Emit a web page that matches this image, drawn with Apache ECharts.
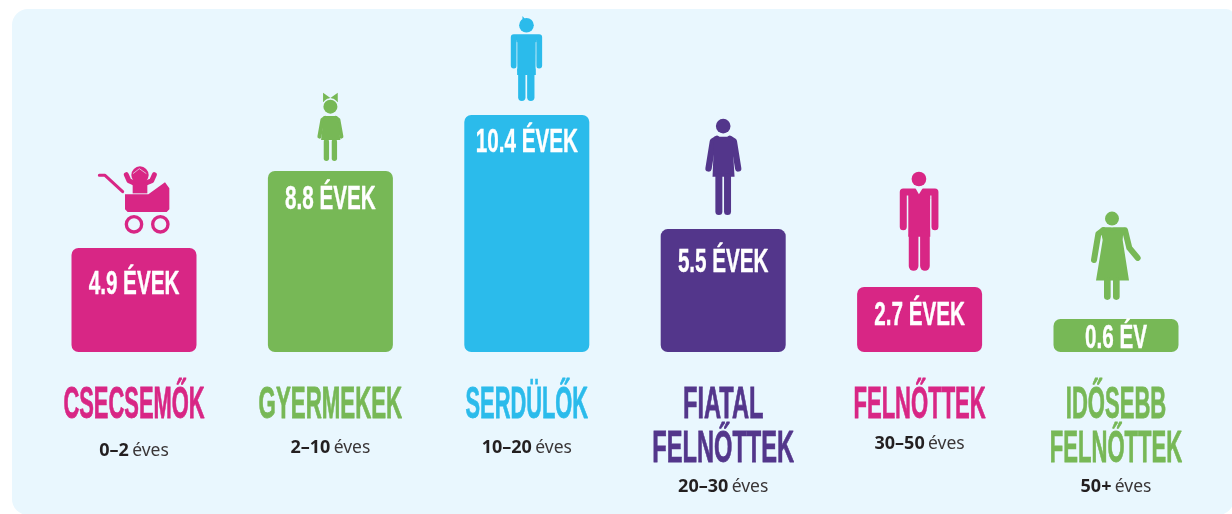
<!DOCTYPE html>
<html>
<head>
<meta charset="UTF-8">
<title>Életkorok</title>
<script src="https://cdn.jsdelivr.net/npm/echarts@6/dist/echarts.min.js"></script>
<style>
html, body { margin: 0; padding: 0; background: #fff; }
#main { width: 1232px; height: 514px; }
</style>
</head>
<body>
<div id="main"></div>
<script type="text/javascript">
var categories = ['CSECSEMŐK', 'GYERMEKEK', 'SERDÜLŐK', 'FIATAL\nFELNŐTTEK', 'FELNŐTTEK', 'IDŐSEBB\nFELNŐTTEK'];
var ageRanges = ['0–2', '2–10', '10–20', '20–30', '30–50', '50+'];
var valueLabels = ['4.9 ÉVEK', '8.8 ÉVEK', '10.4 ÉVEK', '5.5 ÉVEK', '2.7 ÉVEK', '0.6 ÉV'];
// the infographic bars are not to scale, so these are the lengths as drawn,
// measured against the tallest bar (10.4)
var barLengths = [4.56, 7.94, 10.4, 5.39, 2.85, 1.45];

var colors = ['#d82685', '#77b856', '#2bbbeb', '#53368b', '#d82685', '#77b856'];
var panelColor = '#e9f7fe';

// layout, in pixels
var labelDrop = [37, 29, 28, 34, 29, 20];   // value label centre below the bar top
var ageTop = [451, 448, 448, 487, 444, 487]; // centre of the age line
var titleSqueeze = [0.487, 0.495, 0.485, 0.525, 0.49, 0.49]; // no condensed font here, so squeeze it

function circle(x, y, r, fill) {
    return { type: 'circle', shape: { cx: x, cy: y, r: r }, style: { fill: fill } };
}
function ring(x, y, r, w, stroke) {
    return { type: 'circle', shape: { cx: x, cy: y, r: r }, style: { fill: 'none', stroke: stroke, lineWidth: w } };
}
function line(points, w, stroke) {
    return {
        type: 'polyline', shape: { points: points },
        style: { fill: 'none', stroke: stroke, lineWidth: w, lineCap: 'round', lineJoin: 'round' }
    };
}
function poly(points, fill) {
    return { type: 'polygon', shape: { points: points }, style: { fill: fill } };
}

// icons are written in 3x units (as measured on a 3x crop), dx/dy move them to the bar top centre
var icons = [
    { dx: -74, dy: -98, draw: function (c) {
        return [
            line([[118, 76], [135, 76], [188, 125]], 9, c),
            line([[199, 74], [207, 92], [225, 100]], 15, c),
            line([[283, 74], [275, 92], [255, 100]], 15, c),
            poly([[218, 96], [262, 96], [262, 130], [218, 130]], c),
            circle(240, 75, 26, c),
            line([[220, 70], [238, 56], [258, 70]], 2, panelColor),
            poly([[195, 133], [265, 133], [315, 97], [328, 115], [328, 178], [320, 186], [203, 186], [195, 178]], c),
            ring(222, 223, 23, 10, c),
            ring(301, 223, 23, 10, c)
        ];
    } },
    { dx: -30, dy: -86, draw: function (c) {
        return [
            poly([[68, 23], [90, 39], [68, 52]], c),
            poly([[112, 23], [90, 39], [112, 52]], c),
            line([[57, 155], [66, 105], [74, 99]], 12, c),
            line([[123, 155], [114, 105], [106, 99]], 12, c),
            poly([[70, 93], [110, 93], [120, 165], [62, 165]], c),
            line([[78, 170], [78, 220]], 16, c),
            line([[102, 170], [102, 220]], 16, c),
            circle(90, 65, 25, panelColor),
            circle(90, 65, 21, c)
        ];
    } },
    { dx: -77, dy: -115, draw: function (c) {
        return [
            poly([[218, 60], [218, 48], [226, 58]], c),
            circle(230, 76, 22, c),
            line([[192, 197], [192, 112], [268, 112], [268, 197]], 18, c),
            poly([[201, 105], [259, 105], [258, 225], [202, 225]], c),
            line([[201.5, 128], [201.5, 205]], 2, panelColor),
            line([[258.5, 128], [258.5, 205]], 2, panelColor),
            line([[216, 225], [216, 292]], 22, c),
            line([[243, 225], [243, 292]], 22, c)
        ];
    } },
    { dx: -273, dy: -229, draw: function (c) {
        return [
            line([[775, 505], [788, 424], [800, 416]], 19, c),
            line([[864, 505], [851, 424], [839, 416]], 19, c),
            poly([[792, 410], [846, 410], [853, 530], [787, 530]], c),
            line([[806, 530], [806, 634]], 21, c),
            line([[832, 530], [832, 634]], 21, c),
            circle(819, 378, 27, panelColor),
            circle(819, 378, 22, c)
        ];
    } },
    { dx: -80, dy: -127, draw: function (c) {
        return [
            line([[191, 200], [191, 96], [286, 96], [286, 200]], 21, c),
            poly([[206, 90], [272, 90], [272, 230], [206, 230]], c),
            line([[204, 118], [204, 205]], 2, panelColor),
            line([[273, 118], [273, 205]], 2, panelColor),
            line([[222, 225], [222, 318]], 29, c),
            line([[256, 225], [256, 318]], 29, c),
            poly([[226, 82], [238, 103], [251, 82]], panelColor),
            circle(238, 57, 22, c)
        ];
    } },
    { dx: -276, dy: -159, draw: function (c) {
        return [
            line([[762, 300], [775, 222], [790, 211]], 18, c),
            line([[855, 211], [868, 264], [893, 294]], 18, c),
            line([[790, 211], [848, 211]], 18, c),
            poly([[782, 212], [850, 212], [848, 240], [867, 362], [768, 362], [788, 240]], c),
            line([[802, 362], [802, 410]], 20, c),
            line([[829, 362], [829, 410]], 20, c),
            circle(816, 176, 26, panelColor),
            circle(816, 176, 21, c)
        ];
    } }
];

var TITLE_FONT = 'bold 45px "Liberation Sans", sans-serif';
var VALUE_FONT = 'bold 34px "Liberation Sans", sans-serif';

function renderOverlay(params, api) {
    var i = params.dataIndex;
    var top = api.coord([i, barLengths[i]]);
    var cx = top[0], cy = top[1];
    var icon = icons[i];
    return {
        type: 'group',
        children: [
            {
                type: 'group', x: cx + icon.dx, y: cy + icon.dy, scaleX: 1 / 3, scaleY: 1 / 3,
                children: icon.draw(colors[i])
            },
            {
                type: 'text', x: cx, y: cy + labelDrop[i], scaleX: 0.607,
                style: {
                    text: valueLabels[i], font: VALUE_FONT, fill: '#fff', stroke: '#fff', lineWidth: 0.4,
                    align: 'center', verticalAlign: 'middle'
                }
            },
            {
                type: 'text', x: cx, y: 384, scaleX: titleSqueeze[i],
                style: {
                    text: categories[i], font: TITLE_FONT, lineHeight: 44, fill: colors[i],
                    stroke: colors[i], lineWidth: 0.8,
                    align: 'center', verticalAlign: 'top'
                }
            },
            {
                type: 'text', x: cx, y: ageTop[i],
                style: {
                    text: '{b|' + ageRanges[i] + '} {r|éves}', align: 'center', verticalAlign: 'middle',
                    rich: {
                        b: { font: 'bold 18px "Noto Sans", sans-serif', fill: '#231f20' },
                        r: { font: '17.5px "Noto Sans", sans-serif', fill: '#3a3637' }
                    }
                }
            }
        ]
    };
}

var myChart = echarts.init(document.getElementById('main'));
var option = {
    animation: false,
    backgroundColor: '#fff',
    graphic: [{
        type: 'rect', z: -10, silent: true,
        shape: { x: 12, y: 9, width: 1222, height: 506, r: [16, 8, 16, 16] },
        style: { fill: panelColor }
    }],
    grid: { left: 35.8, width: 1178.4, top: 10, height: 342 },
    xAxis: { type: 'category', data: categories, show: false },
    yAxis: { type: 'value', min: 0, max: 15, show: false },
    series: [{
        type: 'bar',
        barWidth: 125,
        data: barLengths.map(function (v, i) {
            return { value: v, itemStyle: { color: colors[i], borderRadius: 7 } };
        })
    }, {
        type: 'custom',
        clip: false,
        z: 5,
        encode: { x: 0, y: 1 },
        data: barLengths.map(function (v, i) { return [i, v]; }),
        renderItem: renderOverlay
    }]
};
myChart.setOption(option);
</script>
</body>
</html>
